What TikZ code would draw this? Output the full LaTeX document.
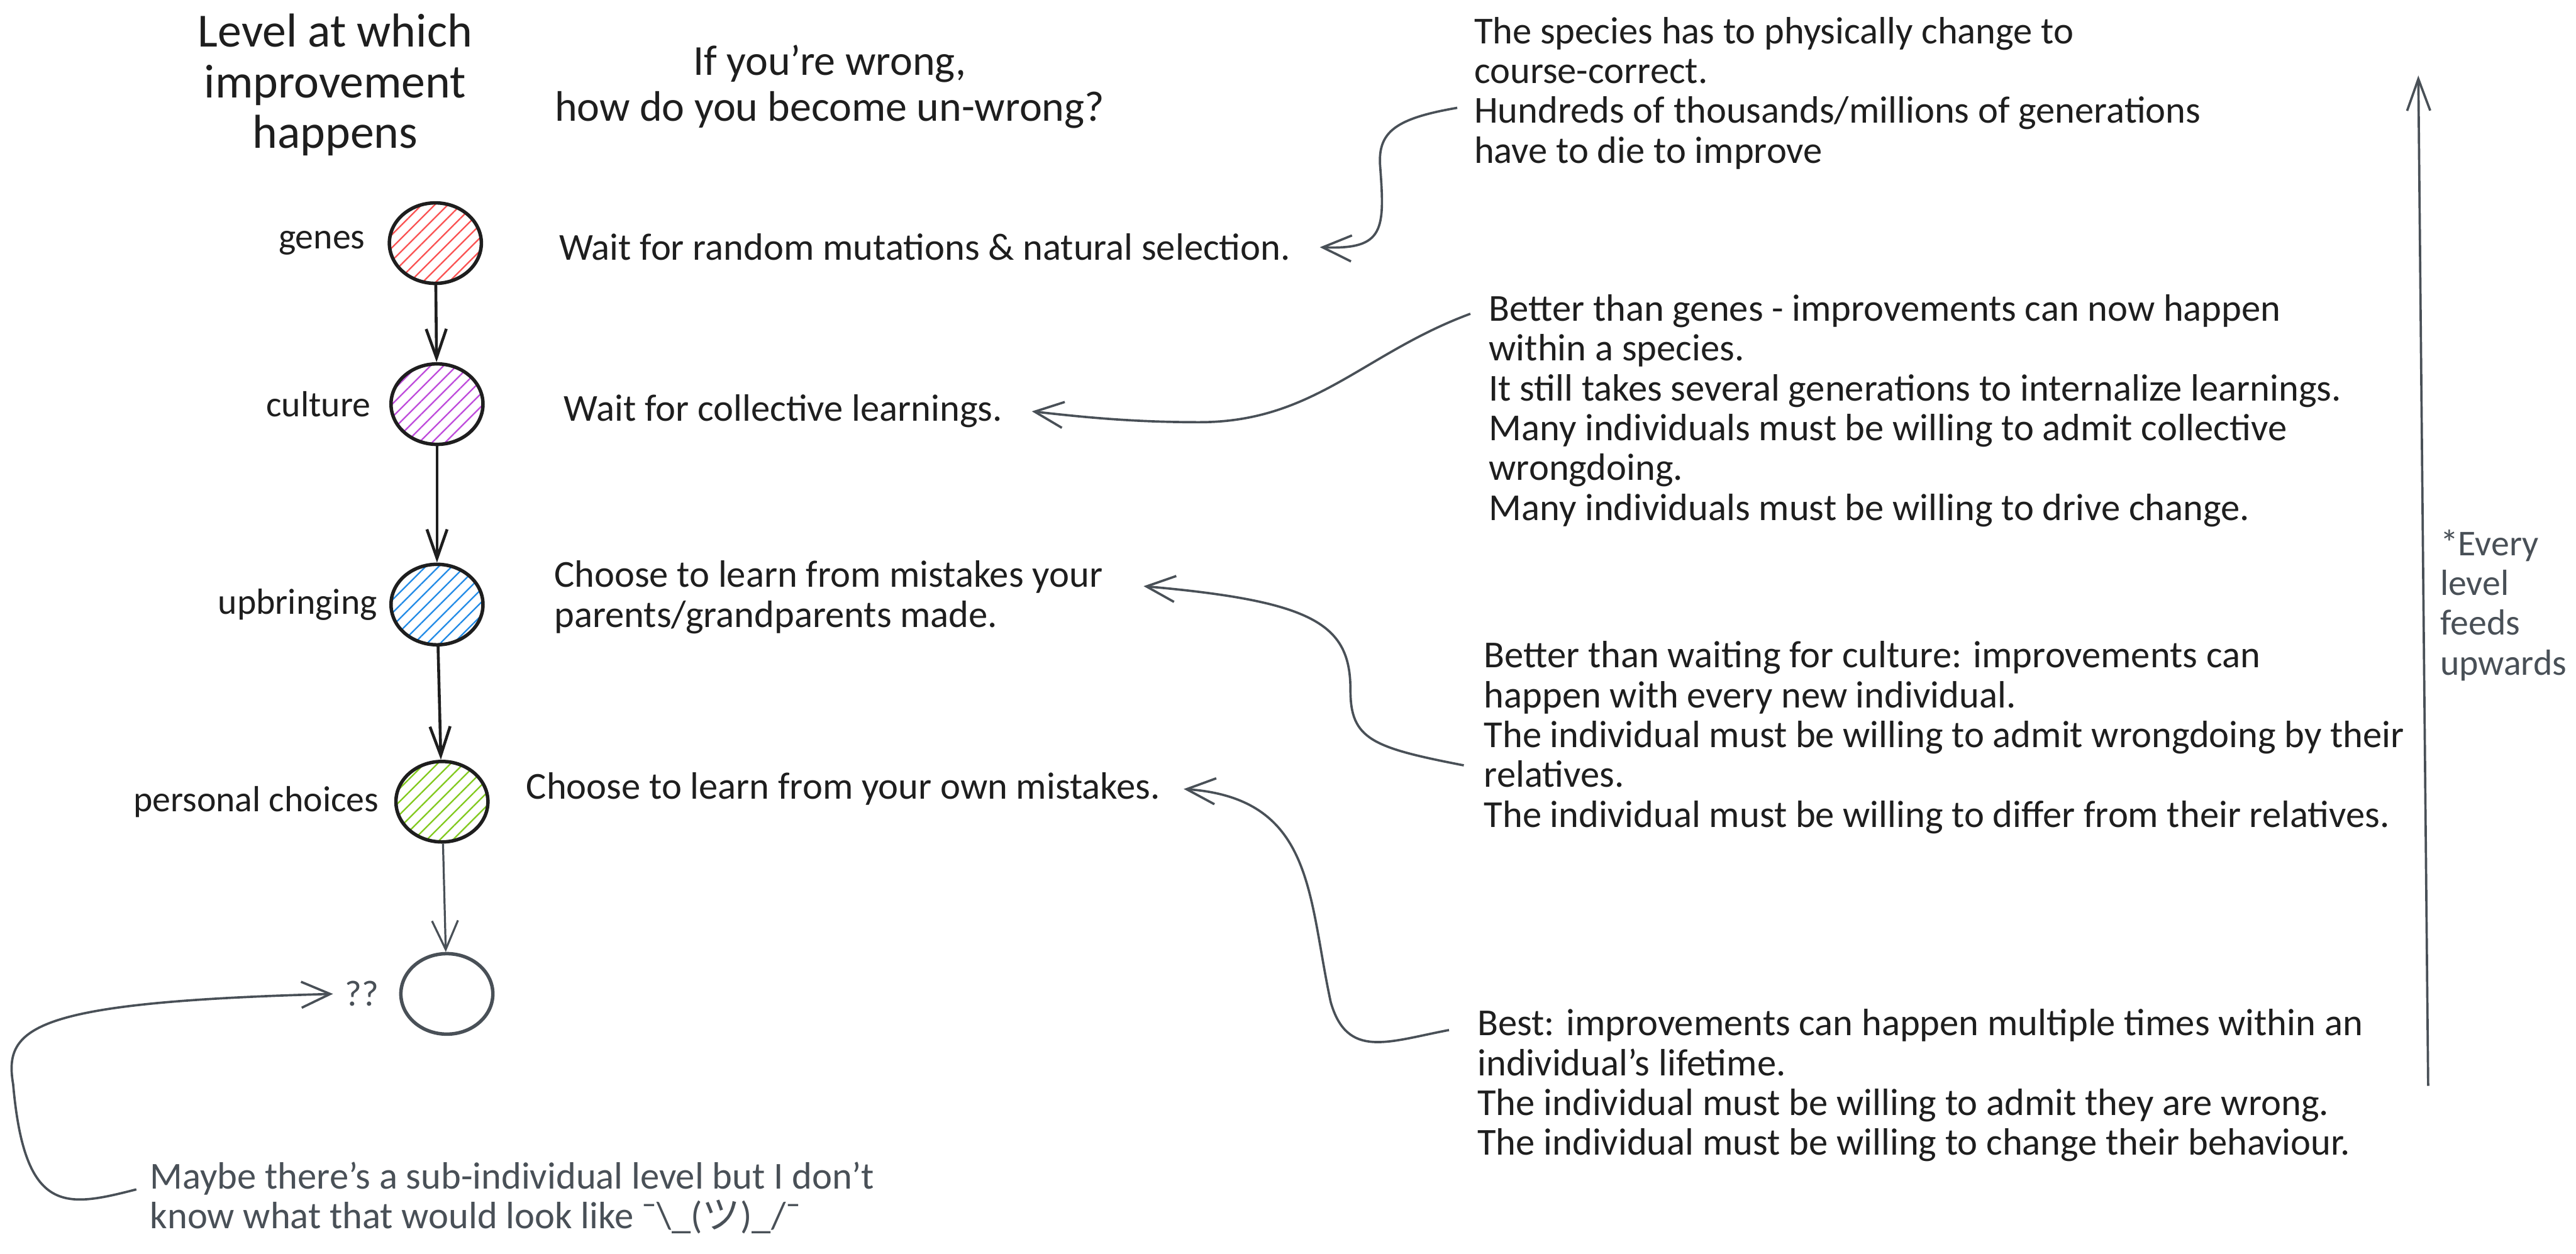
\documentclass[tikz,border=0pt]{standalone}
\usepackage{fontspec}
\setmainfont{Carlito}
\newfontfamily\jpfont{Noto Sans CJK JP}
\usetikzlibrary{positioning,shapes.geometric,arrows.meta,patterns.meta}

\definecolor{ink}      {HTML}{1E1E1E}
\definecolor{slate}    {HTML}{495057}
\definecolor{hgenes}   {HTML}{FA5252}
\definecolor{hculture} {HTML}{BE4BDB}
\definecolor{hupbring} {HTML}{228BE6}
\definecolor{hchoice}  {HTML}{82C91E}

\newcommand{\bodyfont}{\fontsize{13.2pt}{13.8pt}\selectfont}
\newcommand{\tagfont}{\fontsize{12.6pt}{13.8pt}\selectfont}
\newcommand{\bigfont}{\fontsize{16.5pt}{17.6pt}\selectfont}
\newcommand{\headfont}{\fontsize{14.8pt}{15.9pt}\selectfont}

\tikzset{
  every node/.style={font=\bodyfont, text=ink},
  % --- nodes
  lvl/.style   = {ellipse, draw=ink, line width=1.2pt, minimum width=1.12cm,
                  minimum height=0.98cm, inner sep=0pt},
  hatch/.style = {lvl, pattern={Lines[angle=45,distance=3.2pt,line width=0.5pt]},
                  pattern color=#1},
  tag/.style   = {inner sep=0pt, font=\tagfont},
  say/.style   = {anchor=north west, align=left, inner sep=0pt},
  gloss/.style = {say, text=slate},
  % --- edges
  flow/.style  = {-{Straight Barb[length=10pt,width=7pt]}, line width=1pt, draw=ink},
  link/.style  = {-{Straight Barb[length=10pt,width=9pt]}, line width=0.8pt, draw=slate},
}

\begin{document}
\begin{tikzpicture}[x=0.02cm, y=-0.02cm]
  \useasboundingbox (0,0) rectangle (1568,763);

  % ------------------------------------------------------------------ headings
  \node[tag, font=\bigfont, align=center, anchor=north] (lvlhd) at (204,8)
    {Level at which\\improvement\\happens};
  \node[tag, font=\headfont, align=center, anchor=north] (wronghd) at (505,27)
    {If you're wrong,\\how do you become un-wrong?};

  % ------------------------------------------------------------------ levels
  \node[hatch=hgenes]   (genes)   at (265,148) {};
  \node[hatch=hculture] (culture) at (266,246) {};
  \node[hatch=hupbring] (upbring) at (266,368) {};
  \node[hatch=hchoice]  (choice)  at (269,488) {};
  \node[lvl, draw=slate] (unknown) at (272,605) {};

  \node[tag, left=0.28cm of genes]   (genesl)   {genes};
  \node[tag, left=0.22cm of culture] (culturel) {culture};
  \node[tag, left=0.14cm of upbring] (upbringl) {upbringing};
  \node[tag, left=0.18cm of choice]  (choicel)  {personal choices};
  \node[tag, left=0.24cm of unknown, text=slate] (unknownl) {??};

  \draw[flow] (genes) -- (culture);
  \draw[flow] (culture) -- (upbring);
  \draw[flow] (upbring) -- (choice);
  \draw[link, line width=0.7pt] (choice) -- (unknown);

  % ------------------------------------------------------------------ answers
  \node[say] (w1) at (340,142) {Wait for random mutations \& natural selection.};
  \node[say] (w2) at (343,240) {Wait for collective learnings.};
  \node[say] (w3) at (337,341) {Choose to learn from mistakes your\\parents/grandparents made.};
  \node[say] (w4) at (320,470) {Choose to learn from your own mistakes.};

  % ------------------------------------------------------------------ remarks
  \node[say] (t1) at (897,10) {%
    The species has to physically change to\\
    course-correct.\\
    Hundreds of thousands/millions of generations\\
    have to die to improve};
  \node[say] (t2) at (906,179) {%
    Better than genes - improvements can now happen\\
    within a species.\\
    It still takes several generations to internalize learnings.\\
    Many individuals must be willing to admit collective\\
    wrongdoing.\\
    Many individuals must be willing to drive change.};
  \node[say] (t3) at (903,390) {%
    Better than waiting for culture: improvements can\\
    happen with every new individual.\\
    The individual must be willing to admit wrongdoing by their\\
    relatives.\\
    The individual must be willing to differ from their relatives.};
  \node[say] (t4) at (899,614) {%
    Best: improvements can happen multiple times within an\\
    individual's lifetime.\\
    The individual must be willing to admit they are wrong.\\
    The individual must be willing to change their behaviour.};

  \node[gloss] (subnote) at (91,707) {%
    Maybe there's a sub-individual level but I don't\\
    know what that would look like ¯\textbackslash\_({\jpfont ツ})\_/¯};
  \node[gloss, font=\tagfont] (feedl) at (1485,322) {*Every\\level\\feeds\\upwards};

  % ------------------------------------------------------------------ connectors
  \draw[link] ([shift={(-10,9)}]t1.west)
    .. controls (850,72) and (839,80) .. (840,100)
    .. controls (843,140) and (843,152) .. ([xshift=10pt]w1.east);
  \draw[link] ([shift={(-11,12)}]t2.north west)
    .. controls (830,215) and (800,257) .. (730,257)
    .. controls (690,257) and (660,254) .. ([xshift=10pt]w2.east);
  \draw[link] ([shift={(-12,17)}]t3.west)
    .. controls (835,455) and (822,450) .. (822,420)
    .. controls (822,380) and (800,366) .. ([xshift=14pt,yshift=-9pt]w3.north east);
  \draw[link] ([shift={(-17,13)}]t4.north west)
    .. controls (845,634) and (820,645) .. (810,610)
    .. controls (796,545) and (800,486) .. ([xshift=8pt]w4.east);
  \draw[link] ([shift={(-8,17)}]subnote.north west)
    .. controls (40,735) and (15,740) .. (8,660)
    .. controls (2,625) and (20,610) .. ([xshift=-4pt]unknownl.west);

  \coordinate (feedlow) at (1478,661);
  \coordinate (feedtop) at (1472,46);
  \draw[link, -{Straight Barb[length=11pt,width=8pt]}] (feedlow) -- (feedtop);
\end{tikzpicture}
\end{document}
